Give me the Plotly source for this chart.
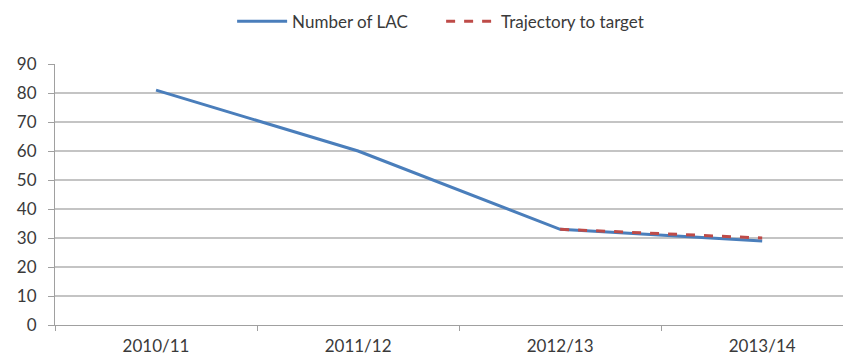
import plotly.graph_objects as go

years = ["2010/11", "2011/12", "2012/13", "2013/14"]
lac_count = [81, 60, 33, 29]
target_years = ["2012/13", "2013/14"]
target_values = [33, 30]
y_ticks = [0, 10, 20, 30, 40, 50, 60, 70, 80, 90]

fig = go.Figure()
fig.add_trace(go.Scatter(
    x=years, y=lac_count, mode="lines", name="Number of LAC",
    line=dict(color="#4a7ebb", width=3),
))
fig.add_trace(go.Scatter(
    x=target_years, y=target_values, mode="lines", name="Trajectory to target",
    line=dict(color="#be4b48", width=3, dash="dash"),
))

fig.update_layout(
    width=843, height=361,
    margin=dict(l=55, r=0, t=64, b=36),
    paper_bgcolor="white", plot_bgcolor="white",
    font=dict(family="Lato, Liberation Sans, sans-serif", size=17, color="#3a3a3a"),
    showlegend=True,
    legend=dict(orientation="h", x=0.49, xanchor="center", y=0.99, yanchor="top",
                yref="container", font=dict(size=17, color="#3a3a3a"),
                itemwidth=50, tracegroupgap=0,
                entrywidth=144, entrywidthmode="pixels"),
    xaxis=dict(
        type="category", categoryorder="array", categoryarray=years,
        range=[-0.5, 3.4], showgrid=False, showline=True, linecolor="#a0a0a0",
        linewidth=1, ticks="outside", ticklen=5, tickcolor="#a0a0a0",
        tickson="boundaries", zeroline=False, ticklabelstandoff=6,
    ),
    yaxis=dict(
        range=[0, 90], tickvals=y_ticks, showgrid=True, gridcolor="#c4c4c4",
        gridwidth=1.5, showline=True, linecolor="#a0a0a0", linewidth=1,
        ticks="outside", ticklen=6, tickcolor="#a0a0a0", zeroline=False,
        ticklabelstandoff=8,
    ),
)

fig.write_html("out.html")
